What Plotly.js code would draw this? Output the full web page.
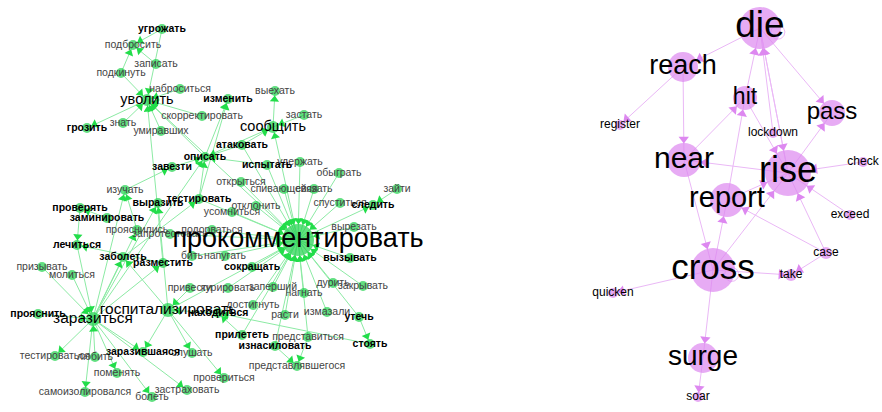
<!DOCTYPE html>
<html><head><meta charset="utf-8">
<script src="https://cdn.plot.ly/plotly-3.0.1.min.js"></script>
<style>html,body{margin:0;padding:0;background:#fff}#chart{width:882px;height:412px}</style>
</head><body><div id="chart"></div>
<script>
// ---------- Left graph (Russian verbs) ----------
const lNodes = [
 "угрожать","подбросить","записать","подкинуть","наброситься",
 "уволить","грозить","знать","умиравших","скорректировать",
 "изменить","выехать","застать","сообщить","атаковать",
 "описать","завезти","испытать","удержать","обыграть",
 "открыться","спивающейся","связать","отклонить","усомниться",
 "тестировать","выразить","изучать","проверять","заминировать",
 "прояснились","запротестовать","подорваться","лечиться","заболеть",
 "разместить","бить","напугать","сокращать","прокомментировать",
 "вырезать","вызывать","спуститься","следить","зайти",
 "призывать","молиться","прояснить","заразиться","госпитализировать",
 "находиться","тестироваться","любить","заразившаяся","слушать",
 "поменять","самоизолировался","болеть","застраховать","привести",
 "курировать","заперший","достигнуть","расти","нагнать",
 "дурить","закрывать","измазали","утечь","стоять",
 "прилететь","изнасиловать","представиться","представлявшегося","провериться"];
const lX = [
 162,133,156,121,180,
 147,87,123,161,202,
 228,275,304,273,242,
 205,172,267,300,339,
 241,284,314,256,232,
 199,158,125,80,107,
 137,170,212,77,123,
 163,192,225,252,298,
 354,350,340,373,397,
 42,72,38,93,168,
 218,55,95,143,192,
 117,85,152,187,190,
 228,273,253,285,304,
 333,363,327,359,370,
 242,275,308,297,224];
const lY = [
 29,45,64,73,89,
 100,128,123,131,116,
 99,91,115,127,145,
 157,167,165,162,173,
 182,189,189,206,212,
 199,203,190,208,218,
 230,234,230,245,257,
 263,256,256,267,240,
 227,258,203,205,189,
 267,275,314,319,310,
 313,356,357,352,353,
 373,392,397,390,288,
 288,287,305,315,293,
 283,286,312,317,344,
 335,346,337,366,378];
// kind: r = regular, b = bold, m = medium, M = large, X = hub
const lKind = [
 "b","r","r","r","r",
 "m","b","r","r","r",
 "b","r","r","m","b",
 "b","b","b","r","r",
 "r","r","r","r","r",
 "b","b","r","b","b",
 "r","r","r","b","b",
 "b","r","r","b","X",
 "r","b","r","b","r",
 "r","r","b","M","M",
 "b","r","r","b","r",
 "r","r","r","r","r",
 "r","r","r","r","r",
 "r","r","r","b","b",
 "b","b","r","r","r"];
const hub = "прокомментировать";
const lFrom = [
 "угрожать","записать","подкинуть","угрожать","подкинуть","наброситься","уволить","знать","скорректировать","умиравших",
 hub,"разместить","описать","описать","тестировать","сообщить","застать","атаковать","описать",hub,
 "атаковать","испытать","завезти","тестировать","изучать","заразиться","заразиться","заминировать","проверять","разместить",
 "лечиться","молиться","призывать","прояснить","любить","заразиться","заразиться","заразиться","заразиться","заразиться",
 "заразиться","заразиться","заразиться","заразиться","госпитализировать","госпитализировать","привести","госпитализировать","госпитализировать","госпитализировать",
 "находиться","прилететь","стоять","утечь","изнасиловать","представиться",hub,"зайти","заразиться","заболеть",
 "удержать","обыграть","спивающейся","связать","открыться","отклонить","усомниться","испытать","спуститься","вырезать",
 "вызывать","сокращать","напугать","бить","подорваться","запротестовать","тестировать","дурить","закрывать","нагнать",
 "измазали","расти","заперший","курировать","достигнуть","изнасиловать","прилететь","утечь","представиться","атаковать",
 "госпитализировать","прояснились"];
const lTo = [
 "подбросить","подбросить","подбросить","уволить","уволить","уволить","грозить","уволить","уволить","уволить",
 "уволить","уволить","уволить","изменить","изменить","выехать","сообщить","сообщить","сообщить","сообщить",
 "описать","описать","описать","описать","завезти","изучать","выразить","проверять","лечиться","лечиться",
 "заразиться","заразиться","заразиться","заразиться","заразиться","тестироваться","самоизолировался","поменять","болеть","застраховать",
 "заразившаяся","заболеть","разместить","прояснились","заболеть","выразить","госпитализировать","заразившаяся","слушать","провериться",
 "госпитализировать","находиться","находиться","стоять","представлявшегося","представлявшегося","следить","следить","описать","тестировать",
 hub,hub,hub,hub,hub,hub,hub,hub,hub,hub,
 hub,hub,hub,hub,hub,hub,hub,hub,hub,hub,
 hub,hub,hub,hub,hub,hub,hub,hub,hub,hub,
 hub,"изучать"];

// ---------- Right graph (English verbs) ----------
const rNodes = ["die","reach","hit","pass","register","lockdown","near","rise","check","report","exceed","case","take","cross","quicken","surge","soar"];
const rX = [760,683,745,832,620,773,684,788,863,727,850,826,791,713,613,703,698];
const rY = [28,67,98,113,125,133,160,173,162,200,215,253,275,270,293,358,397];
const rWeight = [42,30,24,26,10,10,34,46,10,34,10,12,12,44,10,30,10];
const rLabel = [37,27,23,24,12,12,30,36,12,29,12,12,12,35,12,28,12];
const rFrom = ["die","die","hit","rise","lockdown","die","reach","reach","near","hit","report","rise","check","rise","near","cross","report","cross","case","case","case","exceed","cross","cross","cross","surge"];
const rTo   = ["reach","pass","die","die","die","rise","register","near","hit","rise","hit","pass","rise","near","cross","report","rise","rise","report","take","rise","rise","take","quicken","surge","soar"];
const rLoops = ["die","cross"];

// ---------- build ----------
const lSizeOf = k => ({r:10,b:10,m:12,M:14,X:32})[k];
const lFont = {
  r:{size:10.5,color:"#444",weight:"normal"},
  b:{size:10.5,color:"#000",weight:"bold"},
  m:{size:14.5,color:"#000",weight:"normal"},
  M:{size:15.5,color:"#000",weight:"normal"},
  X:{size:27,color:"#000",weight:"normal"}
};
const FAM = "Liberation Sans, Arial, sans-serif";
const edgeTraces = [], headTraces = [], nodeTraces = [], labelTraces = [];

function edgeSet(names, X, Y, sizes, from, to, lineColor, headColor, head){
  const ex=[], ey=[], hx=[], hy=[], ha=[];
  for(let i=0;i<from.length;i++){
    const s=names.indexOf(from[i]), t=names.indexOf(to[i]);
    if(s<0||t<0) continue;
    ex.push(X[s],X[t],null); ey.push(Y[s],Y[t],null);
    const dx=X[t]-X[s], dy=Y[t]-Y[s], d=Math.hypot(dx,dy);
    if(d<1) continue;
    const off = sizes[t]/2 + head*0.45;
    hx.push(X[t]-dx/d*off); hy.push(Y[t]-dy/d*off);
    ha.push(Math.atan2(dx,-dy)*180/Math.PI);
  }
  edgeTraces.push({type:"scatter",mode:"lines",x:ex,y:ey,line:{color:lineColor,width:1},hoverinfo:"skip"});
  headTraces.push({type:"scatter",mode:"markers",x:hx,y:hy,
    marker:{symbol:"triangle-up",size:head,angle:ha,color:headColor,line:{width:0}},hoverinfo:"skip"});
}

const lSizes = lKind.map(lSizeOf);
edgeSet(lNodes,lX,lY,lSizes,lFrom,lTo,"#8ceaa4","#22dd4a",8);
edgeSet(rNodes,rX,rY,rWeight,rFrom,rTo,"#eab8f6","#dd88f0",9);

// self loops
rLoops.forEach(n=>{
  const i=rNodes.indexOf(n), r=rWeight[i]/2;
  const cx=rX[i]+r*0.85, cy=rY[i]+r*0.2, rr=7;
  const px=[],py=[];
  for(let a=0;a<=40;a++){const t=a/40*2*Math.PI;px.push(cx+rr*Math.cos(t));py.push(cy+rr*Math.sin(t));}
  edgeTraces.push({type:"scatter",mode:"lines",x:px,y:py,line:{color:"#eab8f6",width:1},hoverinfo:"skip"});
});

// nodes
nodeTraces.push({type:"scatter",mode:"markers",x:lX,y:lY,marker:{size:lSizes,color:"#1fd24c",line:{width:0}},hoverinfo:"skip"});
nodeTraces.push({type:"scatter",mode:"markers",x:rX,y:rY,marker:{size:rWeight,color:"#dd88f0",line:{width:0}},hoverinfo:"skip"});

// labels
Object.keys(lFont).forEach(k=>{
  const idx=lKind.map((v,i)=>v===k?i:-1).filter(i=>i>=0);
  labelTraces.push({type:"scatter",mode:"text",x:idx.map(i=>lX[i]),y:idx.map(i=>lY[i]),text:idx.map(i=>lNodes[i]),
    textposition:"middle center",textfont:{family:FAM,size:lFont[k].size,color:lFont[k].color,weight:lFont[k].weight},hoverinfo:"skip"});
});
labelTraces.push({type:"scatter",mode:"text",x:rX,y:rY,text:rNodes,textposition:"middle center",
  textfont:{family:FAM,size:rLabel,color:"#000"},hoverinfo:"skip"});

const layout = {
  width:882,height:412,margin:{l:0,r:0,t:0,b:0},
  paper_bgcolor:"#fff",plot_bgcolor:"#fff",showlegend:false,
  xaxis:{range:[0,882],visible:false,fixedrange:true},
  yaxis:{range:[412,0],visible:false,fixedrange:true}
};
Plotly.newPlot("chart",[...edgeTraces,...nodeTraces,...headTraces,...labelTraces],layout,{staticPlot:true,displayModeBar:false});
</script>
</body></html>
